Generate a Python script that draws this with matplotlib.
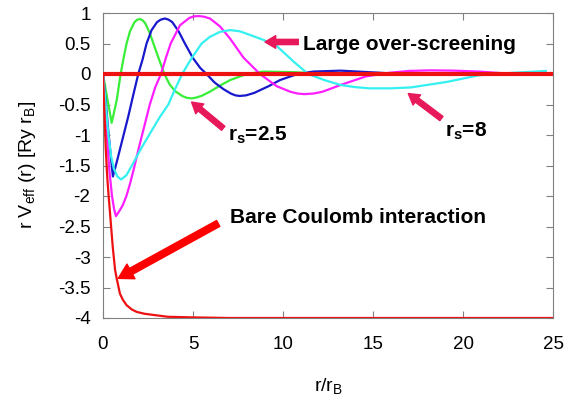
import matplotlib
matplotlib.use("Agg")
import matplotlib.pyplot as plt

plt.rcParams['font.family'] = ['Liberation Sans', 'DejaVu Sans']
plt.rcParams['mathtext.fontset'] = 'custom'
plt.rcParams['mathtext.rm'] = 'Liberation Sans'
plt.rcParams['mathtext.bf'] = 'Liberation Sans:bold'
plt.rcParams['mathtext.it'] = 'Liberation Sans:italic'

# values
green_x = [0, 0.15, 0.3, 0.48, 0.62, 0.76, 0.98, 1.15, 1.31, 1.5, 1.75, 1.9, 2.06, 2.2, 2.35, 2.6, 2.8, 3.1,
           3.41, 3.7, 4.0, 4.4, 4.65, 4.93, 5.2, 5.5, 5.94, 6.5, 7.06, 7.98, 8.9, 10.6, 12.0, 13.5, 25]
green_y = [0, -0.26, -0.5, -0.8, -0.62, -0.43, 0, 0.27, 0.5, 0.7, 0.85, 0.89, 0.9, 0.88, 0.83, 0.67, 0.5, 0.25,
           0, -0.17, -0.28, -0.36, -0.39, -0.40, -0.385, -0.355, -0.29, -0.19, -0.1, 0.0, 0.04, 0.03, 0.01, 0, 0]

blue_x = [0, 0.15, 0.3, 0.45, 0.55, 0.8, 1.1, 1.4, 1.7, 1.96, 2.2, 2.42, 2.7, 3.0, 3.2, 3.44, 3.65, 3.85, 4.2,
          4.55, 5.0, 5.4, 5.75, 6.2, 6.7, 7.1, 7.35, 7.6, 7.95, 8.4, 9.2, 9.83, 10.8, 11.7, 13.2, 15.4, 16.5, 25]
blue_y = [0, -0.45, -0.95, -1.4, -1.68, -1.4, -1.05, -0.7, -0.32, 0, 0.24, 0.5, 0.72, 0.85, 0.89, 0.91, 0.89,
          0.85, 0.7, 0.5, 0.26, 0.1, 0, -0.14, -0.25, -0.32, -0.35, -0.36, -0.35, -0.31, -0.2, -0.1, 0, 0.04,
          0.055, 0.02, 0, 0]

magenta_x = [0, 0.1, 0.2, 0.35, 0.5, 0.62, 0.72, 0.9, 1.1, 1.3, 1.5, 1.7, 2.0, 2.3, 2.6, 2.9, 3.22, 3.5, 3.76,
             4.28, 4.8, 5.05, 5.33, 5.6, 5.94, 6.5, 7.06, 7.8, 8.72, 9.65, 10.4, 10.8, 11.2, 11.7, 12.2, 13.2,
             14.6, 15.9, 17.0, 18.2, 19.5, 20.9, 22.8, 25]
magenta_y = [0, -0.5, -0.95, -1.57, -2.0, -2.22, -2.33, -2.25, -2.15, -2.0, -1.8, -1.57, -1.2, -0.85, -0.5,
             -0.22, 0, 0.27, 0.5, 0.8, 0.92, 0.945, 0.95, 0.94, 0.91, 0.78, 0.58, 0.27, 0, -0.2, -0.29, -0.32,
             -0.33, -0.32, -0.29, -0.18, -0.04, 0.02, 0.05, 0.06, 0.055, 0.04, 0.0, 0]

cyan_x = [0, 0.15, 0.3, 0.45, 0.6, 0.8, 1.0, 1.3, 1.7, 2.06, 2.6, 3.17, 3.63, 4.0, 4.4, 4.9, 5.48, 5.94, 6.5,
          7.06, 7.6, 8.17, 8.9, 9.65, 10.6, 11.4, 12.3, 13.2, 14.0, 14.8, 16.0, 17.1, 19.1, 20.9, 22.8, 24.6]
cyan_y = [0, -0.5, -1.0, -1.35, -1.55, -1.68, -1.73, -1.66, -1.45, -1.25, -0.98, -0.7, -0.5, -0.25, 0, 0.25,
          0.5, 0.61, 0.69, 0.72, 0.7, 0.64, 0.56, 0.46, 0.2, 0, -0.1, -0.18, -0.215, -0.235, -0.235, -0.22,
          -0.13, -0.02, 0.02, 0.05]

bare_x = [0, 0.05, 0.1, 0.15, 0.2, 0.25, 0.3, 0.39, 0.54, 0.67, 0.76, 0.94, 1.1, 1.31, 1.6, 1.87, 2.3, 2.8,
          3.6, 5.0, 7.0, 25]
bare_y = [0, -0.4, -0.8, -1.2, -1.5, -1.75, -1.95, -2.28, -2.83, -3.21, -3.35, -3.6, -3.7, -3.79, -3.86,
          -3.9, -3.93, -3.95, -3.98, -3.99, -4.0, -4.0]

over_x = [0, 25]
over_y = [0, 0]

xticks = [0, 5, 10, 15, 20, 25]
yticks = [1, 0.5, 0, -0.5, -1, -1.5, -2, -2.5, -3, -3.5, -4]
ytick_labels = ['1', '0.5', '0', '-0.5', '-1', '-1.5', '-2', '-2.5', '-3', '-3.5', '-4']

fig = plt.figure(figsize=(5.88, 4.01), dpi=100)
ax = fig.add_axes([103/588, 1-318/401, 450/588, 305/401])

ax.plot(green_x, green_y, color='#38ee38', lw=1.6, zorder=2, solid_joinstyle='round')
ax.plot(blue_x, blue_y, color='#1818cc', lw=1.6, zorder=2, solid_joinstyle='round')
ax.plot(magenta_x, magenta_y, color='#ff1eff', lw=1.6, zorder=2, solid_joinstyle='round')
ax.plot(cyan_x, cyan_y, color='#35f0f0', lw=1.6, zorder=2, solid_joinstyle='round')
ax.plot(bare_x, bare_y, color='#ee1111', lw=1.6, zorder=3, solid_joinstyle='round')
ax.plot(over_x, over_y, color='#ee1111', lw=3.0, zorder=3)

ax.set_xlim(0, 25)
ax.set_ylim(-4, 1)
ax.set_xticks(xticks)
ax.set_yticks(yticks)
ax.set_yticklabels(ytick_labels)
ax.tick_params(direction='in', length=5, width=0.8, color='#808080', labelsize=13.5,
               top=True, right=True, labeltop=False, labelright=False)
ax.tick_params(axis='x', pad=13)
ax.tick_params(axis='y', pad=9)
for s in ax.spines.values():
    s.set_color('#808080')
    s.set_linewidth(0.8)

fig.text(27/588, 1-165/401, r'r V$_\mathrm{eff}$ (r) [Ry r$_\mathrm{B}$]', rotation=90,
         ha='center', va='center', fontsize=14)
fig.text(328/588, 1-386/401, r'r/r$_\mathrm{B}$', ha='center', va='center', fontsize=14)

pink = '#e8195a'
arr = dict(arrowstyle='simple,head_length=0.55,head_width=0.65,tail_width=0.27',
           color=pink, mutation_scale=14, shrinkA=0, shrinkB=0)
ax.annotate('', xy=(9.0, 0.525), xytext=(10.85, 0.525), arrowprops=arr, zorder=5)
ax.annotate('', xy=(4.92, -0.46), xytext=(6.68, -0.89), arrowprops=arr, zorder=5)
ax.annotate('', xy=(16.96, -0.32), xytext=(18.8, -0.73), arrowprops=arr, zorder=5)
arr_red = dict(arrowstyle='simple,head_length=0.65,head_width=0.75,tail_width=0.3',
               color='#ff0000', mutation_scale=16, shrinkA=0, shrinkB=0)
ax.annotate('', xy=(0.85, -3.35), xytext=(6.4, -2.45), arrowprops=arr_red, zorder=5)

ax.text(11.1, 0.39, 'Large over-screening', fontsize=15, fontweight='bold', ha='left', va='baseline')
ax.text(6.97, -1.09, r'$\mathbf{r_s}$=2.5', fontsize=15, fontweight='bold', ha='left', va='baseline')
ax.text(19.0, -1.03, r'$\mathbf{r_s}$=8', fontsize=15, fontweight='bold', ha='left', va='baseline')
ax.text(7.06, -2.45, 'Bare Coulomb interaction', fontsize=15, fontweight='bold', ha='left', va='baseline')

fig.savefig('out.png', dpi=100)
